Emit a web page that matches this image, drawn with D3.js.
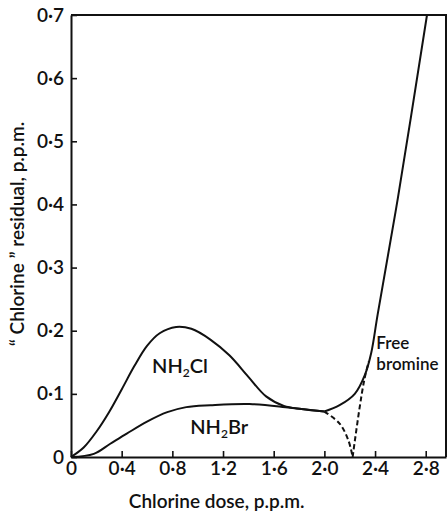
<!DOCTYPE html>
<html>
<head>
<meta charset="utf-8">
<script src="https://cdn.jsdelivr.net/npm/d3@7"></script>
<style>
  body { margin: 0; background: #fff; }
  svg { display: block; }
  text { font-family: Lato, "Open Sans", sans-serif; fill: #111; }
</style>
</head>
<body>
<div></div>
<script>
// values
const xTicks = [0, 0.4, 0.8, 1.2, 1.6, 2.0, 2.4, 2.8];
const yTicks = [0, 0.1, 0.2, 0.3, 0.4, 0.5, 0.6, 0.7];

// NH2Cl curve (solid)
const clDose = [0, 0.1, 0.2, 0.3, 0.4, 0.5, 0.6, 0.7, 0.83, 0.95, 1.1, 1.25, 1.4, 1.54, 1.68, 1.82, 2.0];
const clResid = [0, 0.015, 0.040, 0.071, 0.107, 0.144, 0.176, 0.196, 0.206, 0.203, 0.186, 0.161, 0.127, 0.096, 0.081, 0.076, 0.072];

// NH2Br curve (solid)
const brDose = [0, 0.18, 0.31, 0.44, 0.60, 0.76, 0.91, 1.10, 1.41, 1.73, 2.0];
const brResid = [0, 0.005, 0.021, 0.037, 0.056, 0.071, 0.079, 0.082, 0.084, 0.078, 0.072];

// NH2Br breakdown (dashed)
const brFallDose = [2.0, 2.12, 2.19, 2.223];
const brFallResid = [0.072, 0.053, 0.026, 0];

// total residual after breakpoint (solid)
const freeDose = [2.0, 2.12, 2.24, 2.32, 2.37, 2.42, 2.58, 2.81];
const freeResid = [0.072, 0.082, 0.100, 0.130, 0.165, 0.225, 0.41, 0.70];

// free bromine (dashed)
const fbDose = [2.223, 2.275, 2.315, 2.35];
const fbResid = [0, 0.074, 0.122, 0.151];

// set the dimensions and margins of the graph
const margin = { top: 15, right: 1, bottom: 57, left: 71 },
    width = 447 - margin.left - margin.right,
    height = 514 - margin.top - margin.bottom;

const svg = d3.select("body div")
    .append("svg")
    .attr("width", width + margin.left + margin.right)
    .attr("height", height + margin.top + margin.bottom)
    .append("g")
    .attr("transform", `translate(${margin.left},${margin.top})`);

const x = d3.scaleLinear().domain([0, 2.96]).range([0, width]);
const y = d3.scaleLinear().domain([0, 0.7]).range([height, 0]);

// "0·4" style labels
const fmt = d => d === 0 ? "0" : d3.format(".1f")(d).replace(".", "·");

// frame: top and right
svg.append("path")
    .attr("d", `M0,0H${width}V${height}`)
    .attr("fill", "none")
    .attr("stroke", "#111")
    .attr("stroke-width", 2);

// X axis
const xAxis = svg.append("g")
    .attr("transform", `translate(0, ${height})`)
    .call(d3.axisBottom(x).tickValues(xTicks).tickFormat(fmt)
        .tickSizeInner(-6).tickSizeOuter(0).tickPadding(4));

// Y axis
const yAxis = svg.append("g")
    .call(d3.axisLeft(y).tickValues(yTicks).tickFormat(fmt)
        .tickSizeInner(-6).tickSizeOuter(0).tickPadding(7));

[xAxis, yAxis].forEach(function (a) {
    a.select(".domain").attr("stroke", "#111").attr("stroke-width", 2);
    a.selectAll(".tick line").attr("stroke", "#111").attr("stroke-width", 1.6);
    a.selectAll(".tick text")
        .style("font-family", "Lato, sans-serif")
        .style("font-size", "19px")
        .style("font-weight", "600")
        .attr("fill", "#111");
});

// axis titles
svg.append("text")
    .attr("x", x(1.15))
    .attr("y", height + 51)
    .attr("text-anchor", "middle")
    .style("font-size", "19px")
    .style("font-weight", "600")
    .text("Chlorine dose, p.p.m.");

svg.append("text")
    .attr("transform", "rotate(-90)")
    .attr("x", -(234 - margin.top))
    .attr("y", -margin.left + 24)
    .attr("text-anchor", "middle")
    .style("font-size", "19px")
    .style("font-weight", "600")
    .text("\u201C Chlorine \u201D residual, p.p.m.");

// curves
const line = d3.line()
    .x(function (d) { return x(d[0]); })
    .y(function (d) { return y(d[1]); })
    .curve(d3.curveCatmullRom.alpha(0.5));

const series = [
    { dose: clDose, resid: clResid, dash: null },
    { dose: brDose, resid: brResid, dash: null },
    { dose: freeDose, resid: freeResid, dash: null },
    { dose: brFallDose, resid: brFallResid, dash: "5,3" },
    { dose: fbDose, resid: fbResid, dash: "5,3" }
];

svg.append("g")
    .selectAll("path")
    .data(series)
    .join("path")
    .attr("d", function (s) { return line(d3.zip(s.dose, s.resid)); })
    .attr("fill", "none")
    .attr("stroke", "#111")
    .attr("stroke-width", 2)
    .attr("stroke-dasharray", function (s) { return s.dash; });

// curve labels
function chem(xv, yv, parts) {
    const t = svg.append("text")
        .attr("x", xv)
        .attr("y", yv)
        .attr("text-anchor", "middle")
        .style("font-size", "20px")
        .style("font-weight", "600");
    t.append("tspan").text(parts[0]);
    t.append("tspan").attr("dy", 4).style("font-size", "12px").text("2");
    t.append("tspan").attr("dy", -4).text(parts[1]);
}
chem(x(0.86), y(0.133), ["NH", "Cl"]);
chem(x(1.17), y(0.037), ["NH", "Br"]);

svg.append("text")
    .attr("x", x(2.54))
    .attr("y", 349 - margin.top)
    .attr("text-anchor", "middle")
    .style("font-size", "17px")
    .style("font-weight", "600")
    .text("Free");

svg.append("text")
    .attr("x", x(2.41))
    .attr("y", 370 - margin.top)
    .style("font-size", "17px")
    .style("font-weight", "600")
    .text("bromine");
</script>
</body>
</html>
